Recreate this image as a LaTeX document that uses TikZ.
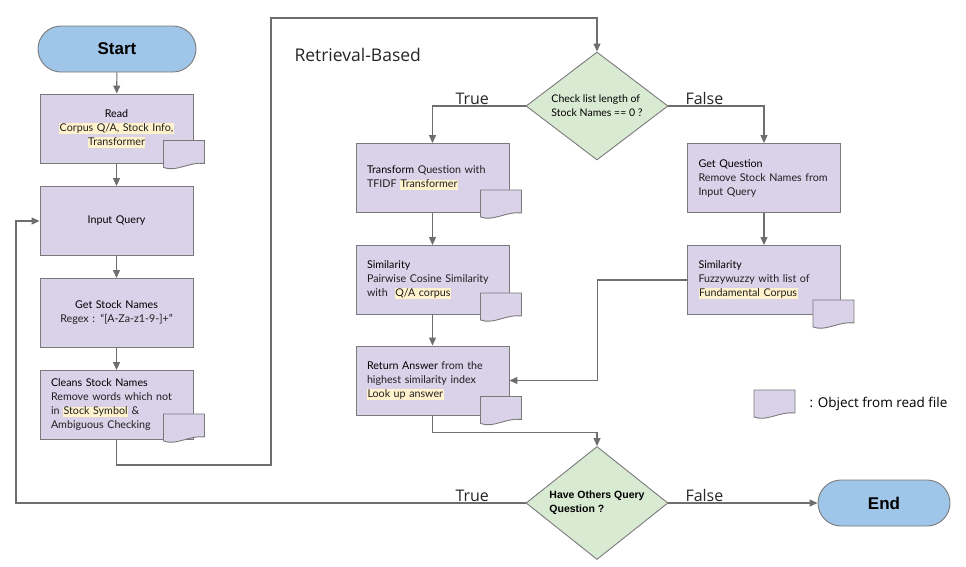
\documentclass[tikz,border=0pt]{standalone}
\usepackage{fontspec}
\setmainfont{Lato}
\newfontfamily\labelfont{Open Sans}
\newfontfamily\arialfont{Liberation Sans}
\usetikzlibrary{%
        arrows.meta,
        shapes.geometric
    }
\definecolor{boxfill}{HTML}{D9D2E9}
\definecolor{termfill}{HTML}{9FC5E8}
\definecolor{decfill}{HTML}{D9EAD3}
\definecolor{hlyellow}{HTML}{FFF2CC}
\definecolor{edge}{HTML}{7A7A7A}
\definecolor{wire}{HTML}{6E6E6E}
\newcommand{\hl}[1]{{\setlength{\fboxsep}{0.5pt}\colorbox{hlyellow}{\vphantom{Qy}#1}}}
\newcommand{\ttl}[1]{{\color{black}#1}}

\tikzset{
    process/.style={draw=edge, fill=boxfill, line width=0.9pt,
        minimum width=153pt, minimum height=69pt, inner xsep=11pt,
        text width=131pt, font=\fontsize{10.7}{14}\selectfont, text=black!88},
    processc/.style={process, align=center},
    processl/.style={process, align=left},
    terminal/.style={draw=edge, fill=termfill, line width=0.9pt,
        rounded corners=23pt, minimum height=46pt,
        font=\arialfont\bfseries\fontsize{17}{20}\selectfont},
    decision/.style={diamond, draw=edge, fill=decfill, line width=0.9pt,
        inner sep=0pt, align=left, text=black},
    line/.style={draw=wire, line width=1.1pt},
    arrow/.style={line, -{Triangle[length=8pt, width=7pt]}},
    branch/.style={font=\labelfont\fontsize{16}{18}\selectfont, text=black!85},
    docicon/.pic={
        \filldraw[draw=edge, fill=boxfill, line width=0.9pt]
            (0, 0) -- (41, 0) -- (41, 23)
            .. controls (26, 21) and (13, 32) .. (0, 27) -- cycle;
    }
}

\begin{document}
\begin{tikzpicture}[x=1pt, y=-1pt]

    \useasboundingbox (0, 0) rectangle (966, 566);

    % left column
    \node[terminal, minimum width=158pt] (start) at (117, 49) {Start};
    \node[processc] (read) at (116.5, 128.5)
        {\ttl{Read}\\ \hl{Corpus Q/A, Stock Info,}\\ \hl{Transformer}};
    \node[processc] (query) at (116.5, 221) {\ttl{Input Query}};
    \node[processc] (names) at (116.5, 313)
        {\ttl{Get Stock Names}\\ Regex : ``[A-Za-z1-9-]+''};
    \node[processl] (clean) at (116.5, 405)
        {\ttl{Cleans Stock Names}\\ Remove words which not\\
         in \hl{Stock Symbol} \&\\ Ambiguous Checking};

    % retrieval part
    \node[branch, anchor=base west, font=\labelfont\fontsize{17.5}{20}\selectfont]
        (retr) at (291, 61) {Retrieval-Based};
    \node[decision, minimum width=142pt, minimum height=108pt, aspect=1.31,
        font=\fontsize{10.5}{14}\selectfont] (check) at (597, 106)
        {Check list length of\\ Stock Names == 0 ?};

    \node[processl] (transform) at (432.5, 178)
        {\ttl{Transform} Question with\\ TFIDF \hl{Transformer}};
    \node[processl] (simqa) at (432.5, 280)
        {\ttl{Similarity}\\ Pairwise Cosine Similarity\\ with \ \hl{Q/A corpus}};
    \node[processl] (answer) at (432.5, 380.5)
        {\ttl{Return Answer} from the\\ highest similarity index\\ \hl{Look up answer}};

    \node[processl] (getq) at (764, 178)
        {\ttl{Get Question}\\ Remove Stock Names from\\ Input Query};
    \node[processl] (simfz) at (764, 280)
        {\ttl{Similarity}\\ Fuzzywuzzy with list of\\ \hl{Fundamental Corpus}};

    % bottom
    \node[decision, minimum width=142pt, minimum height=113pt, aspect=1.26,
        font=\arialfont\bfseries\fontsize{10.5}{14}\selectfont] (others) at (597, 503)
        {Have Others Query\\ Question ?};
    \node[terminal, minimum width=132pt] (end) at (884, 503) {End};

    % document marks
    \foreach \blk/\dx/\dy in {read/-30/-23, clean/-30/-26, transform/-29/-23,
                              simqa/-29/-22, answer/-29/-19, simfz/-28/-15} {%
        \pic at ([shift={(\dx, \dy)}]\blk.south east) {docicon};
    };

    % legend
    \pic at (754, 390) {docicon};
    \node[anchor=west, font=\labelfont\fontsize{13.5}{16}\selectfont] (legend)
        at (806, 404) {: Object from read file};

    % connectors
    \draw[arrow] (start) -- (read);
    \draw[arrow] (read) -- (query);
    \draw[arrow] (query) -- (names);
    \draw[arrow] (names) -- (clean);

    \coordinate (jlow) at (271, 465);
    \coordinate (jtop) at (271, 18);
    \draw[arrow] (clean.south) |- (jlow) -- (jtop) -| (check.north);

    \draw[arrow] (check.west) -| (transform.north);
    \draw[arrow] (check.east) -| (getq.north);
    \node[branch, anchor=base west] (ltrue) at (452, 104) {True};
    \node[branch, anchor=base west] (lfalse) at (682, 104) {False};

    \draw[arrow] (transform) -- (simqa);
    \draw[arrow] (simqa) -- (answer);
    \draw[arrow] (getq) -- (simfz);
    \draw[arrow] (simfz.west) -- ++(-90, 0) |- (answer.east);

    \draw[arrow] (answer.south) -- ++(0, 17) -| (others.north);

    \coordinate (jloop) at (16, 221);
    \draw[arrow] (others.west) -| (jloop) -- (query.west);
    \draw[arrow] (others.east) -- (end.west);
    \node[branch, anchor=base west] (btrue) at (452, 501) {True};
    \node[branch, anchor=base west] (bfalse) at (682, 501) {False};

\end{tikzpicture}
\end{document}
